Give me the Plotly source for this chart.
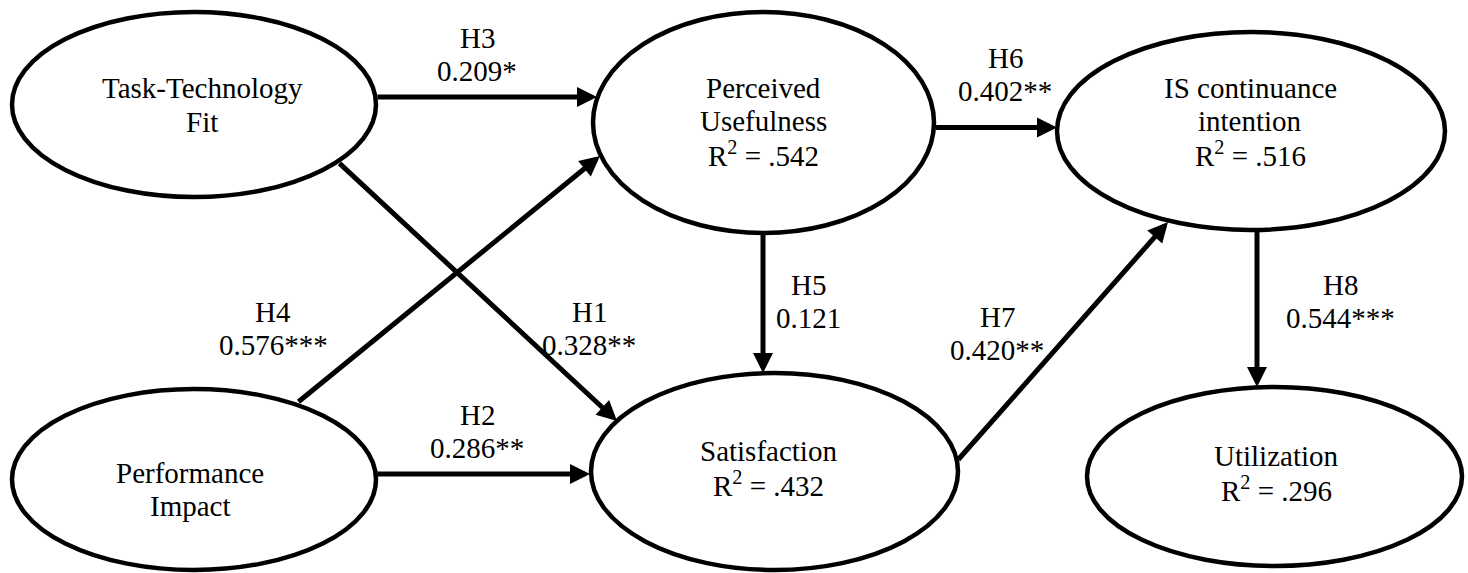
import plotly.graph_objects as go

# ---------------- data ----------------
construct_names = ["Task-Technology Fit", "Perceived Usefulness", "IS continuance intention",
                   "Performance Impact", "Satisfaction", "Utilization"]
construct_lines = [["Task-Technology", "Fit"], ["Perceived", "Usefulness"],
                   ["IS continuance", "intention"], ["Performance", "Impact"],
                   ["Satisfaction"], ["Utilization"]]
r_squared = [None, ".542", ".516", None, ".432", ".296"]

hypotheses = ["H1", "H2", "H3", "H4", "H5", "H6", "H7", "H8"]
path_coefficients = ["0.328**", "0.286**", "0.209*", "0.576***", "0.121", "0.402**", "0.420**", "0.544***"]
path_from = ["Task-Technology Fit", "Performance Impact", "Task-Technology Fit", "Performance Impact",
             "Perceived Usefulness", "Perceived Usefulness", "Satisfaction", "IS continuance intention"]
path_to = ["Satisfaction", "Satisfaction", "Perceived Usefulness", "Perceived Usefulness",
           "Satisfaction", "IS continuance intention", "IS continuance intention", "Utilization"]

# ---------------- layout (pixel coordinates) ----------------
W, H = 1468, 573
node_geom = {  # cx, cy, rx, ry
    "Task-Technology Fit": (194, 104.5, 182, 92.5),
    "Perceived Usefulness": (763.5, 122.5, 170.5, 110.5),
    "IS continuance intention": (1251, 131, 194, 99),
    "Performance Impact": (194, 479.5, 182, 90.5),
    "Satisfaction": (774.5, 471.5, 183.5, 98.5),
    "Utilization": (1274.5, 476.5, 187.5, 89.5),
}
node_text_pos = {  # text x, first line y, line gap
    "Task-Technology Fit": (202, 88, 34),
    "Perceived Usefulness": (763, 88, 33),
    "IS continuance intention": (1250, 88, 33),
    "Performance Impact": (190, 473, 33),
    "Satisfaction": (768, 451, 33),
    "Utilization": (1276, 456, 33),
}
edge_geom = {  # tail (x, y), head (x, y)
    "H1": ((338, 162), (617, 421)),
    "H2": ((376, 474), (590, 474)),
    "H3": ((376, 97), (597, 97)),
    "H4": ((297, 403), (600, 156)),
    "H5": ((763, 233), (763, 373)),
    "H6": ((934, 127.5), (1057, 127.5)),
    "H7": ((957, 461), (1168, 222)),
    "H8": ((1257, 230), (1257, 387)),
}
edge_label_pos = {  # x, first line y
    "H1": (589, 312),
    "H2": (477, 415),
    "H3": (477, 38),
    "H4": (273, 312),
    "H5": (808, 285),
    "H6": (1005, 58),
    "H7": (997, 317),
    "H8": (1340, 285),
}
LINE_GAP = 33
FONT = dict(family="Liberation Serif, Times New Roman, serif", size=29, color="black")

fig = go.Figure()
fig.add_trace(go.Scatter(x=[0, W], y=[0, H], mode="markers",
                         marker=dict(opacity=0), hoverinfo="skip", showlegend=False))

shapes = []
annotations = []

# ellipses + construct text
for name, lines, r2 in zip(construct_names, construct_lines, r_squared):
    cx, cy, rx, ry = node_geom[name]
    shapes.append(dict(type="circle", xref="x", yref="y",
                       x0=cx - rx, x1=cx + rx, y0=cy - ry, y1=cy + ry,
                       line=dict(color="black", width=4.5), fillcolor="white", layer="below"))
    tx, ty, gap = node_text_pos[name]
    all_lines = list(lines)
    if r2 is not None:
        all_lines.append("R<sup>2</sup> = " + r2)
    for i, t in enumerate(all_lines):
        annotations.append(dict(x=tx, y=ty + i * gap, xref="x", yref="y", text=t,
                                showarrow=False, xanchor="center", yanchor="middle", font=FONT))

# paths (arrows) + labels
for h, c, f, t in zip(hypotheses, path_coefficients, path_from, path_to):
    (x0, y0), (x1, y1) = edge_geom[h]
    annotations.append(dict(x=x1, y=y1, ax=x0, ay=y0, xref="x", yref="y",
                            axref="x", ayref="y", text="", showarrow=True,
                            arrowhead=2, arrowsize=0.8, arrowwidth=5, arrowcolor="black",
                            standoff=0, startstandoff=0))
    lx, ly = edge_label_pos[h]
    annotations.append(dict(x=lx, y=ly, xref="x", yref="y", text=h, showarrow=False,
                            xanchor="center", yanchor="middle", font=FONT))
    annotations.append(dict(x=lx, y=ly + LINE_GAP, xref="x", yref="y", text=c, showarrow=False,
                            xanchor="center", yanchor="middle", font=FONT))

fig.update_layout(
    width=W, height=H,
    margin=dict(l=0, r=0, t=0, b=0),
    paper_bgcolor="white", plot_bgcolor="white",
    xaxis=dict(range=[0, W], visible=False, showgrid=False, zeroline=False, fixedrange=True),
    yaxis=dict(range=[H, 0], visible=False, showgrid=False, zeroline=False, fixedrange=True),
    shapes=shapes, annotations=annotations, showlegend=False,
)

fig.write_html("out.html", config={"displayModeBar": False},
               post_script="document.body.style.margin='0';document.body.style.overflow='hidden';")
